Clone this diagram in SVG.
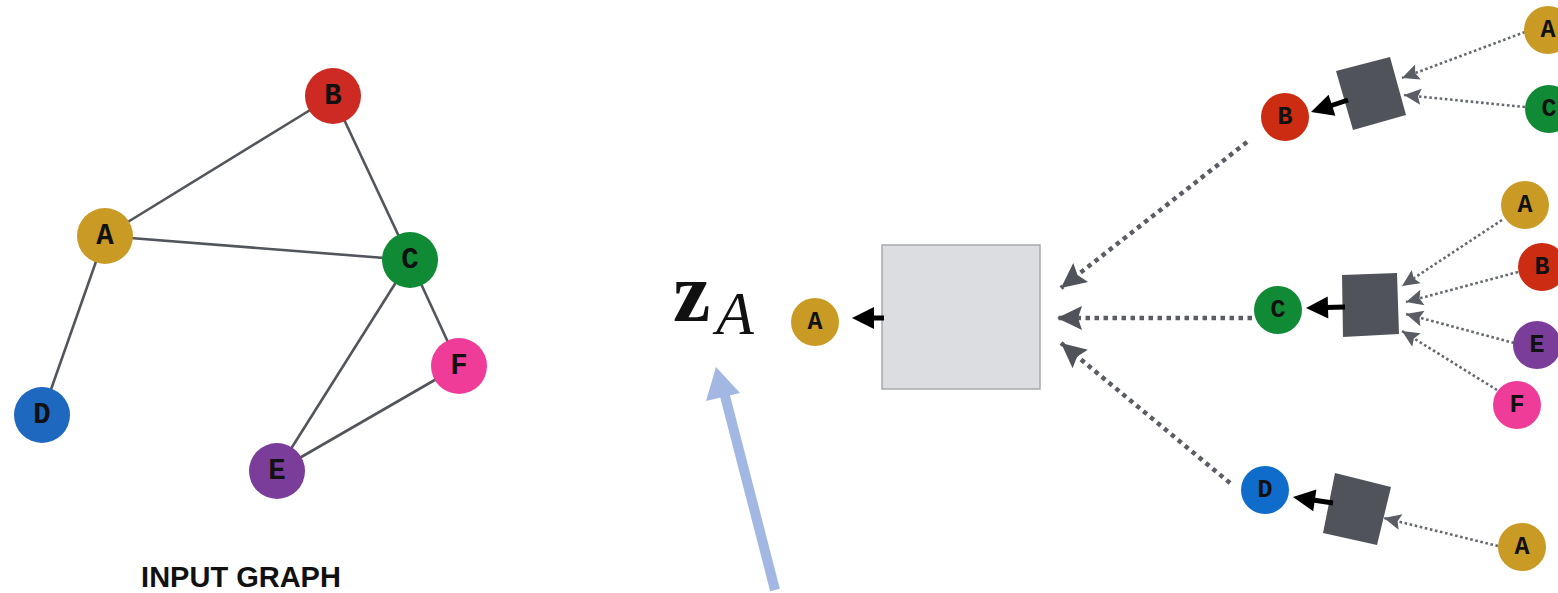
<svg xmlns="http://www.w3.org/2000/svg" width="1558" height="593" viewBox="0 0 1558 593">
  <style>
    .edge { stroke: #52565c; stroke-width: 2.6; fill: none; }
    .node-lbl { font-family: "Liberation Mono", "Courier New", monospace; font-weight: bold; fill: #111; text-anchor: middle; dominant-baseline: central; }
    .big { font-size: 29px; }
    .small { font-size: 25px; }
    .agg { fill: #50545a; }
    .solid { stroke: #000; stroke-width: 5; fill: none; }
    .solid-head { fill: #000; }
    .dotted { stroke: #666a70; stroke-width: 2.6; stroke-dasharray: 2.6 2.6; fill: none; marker-end: url(#headGraySmall); }
    .dotted-big { stroke: #5a5e64; stroke-width: 4.5; stroke-dasharray: 4.5 4.5; fill: none; marker-end: url(#headGrayBig); }
    .cA { fill: #c99a24; } .cB { fill: #cc2a22; } .cC { fill: #118a36; }
    .cD { fill: #1f68bf; } .cE { fill: #7a3d9a; } .cF { fill: #ee3c98; }
    .cB2 { fill: #cc2c12; } .cD2 { fill: #0f6ccb; }
  </style>
  <defs>
    <marker id="headGraySmall" markerUnits="userSpaceOnUse" markerWidth="18" markerHeight="16" refX="17" refY="8" orient="auto" overflow="visible">
      <path d="M0,0 L17,8 L0,16 L3,8 Z" fill="#5a5e64"/>
    </marker>
    <marker id="headGrayBig" markerUnits="userSpaceOnUse" markerWidth="26" markerHeight="24" refX="25" refY="12" orient="auto" overflow="visible">
      <path d="M0,0 L25,12 L0,24 L4,12 Z" fill="#50545a"/>
    </marker>
  </defs>

  <!-- input graph: edges -->
  <g id="graph-edges">
    <line class="edge" x1="105" y1="236" x2="333" y2="96"/>
    <line class="edge" x1="105" y1="236" x2="410" y2="260"/>
    <line class="edge" x1="333" y1="96" x2="410" y2="260"/>
    <line class="edge" x1="105" y1="236" x2="42" y2="415"/>
    <line class="edge" x1="410" y1="260" x2="277" y2="471"/>
    <line class="edge" x1="410" y1="260" x2="459" y2="366"/>
    <line class="edge" x1="277" y1="471" x2="459" y2="366"/>
  </g>

  <!-- input graph: nodes -->
  <g id="g-B"><circle class="cB" cx="333" cy="96" r="28"/><text class="node-lbl big" x="333" y="96">B</text></g>
  <g id="g-A"><circle class="cA" cx="105" cy="236" r="28"/><text class="node-lbl big" x="105" y="236">A</text></g>
  <g id="g-C"><circle class="cC" cx="410" cy="260" r="28"/><text class="node-lbl big" x="410" y="260">C</text></g>
  <g id="g-F"><circle class="cF" cx="459" cy="366" r="28"/><text class="node-lbl big" x="459" y="366">F</text></g>
  <g id="g-D"><circle class="cD" cx="42" cy="415" r="28"/><text class="node-lbl big" x="42" y="415">D</text></g>
  <g id="g-E"><circle class="cE" cx="277" cy="471" r="28"/><text class="node-lbl big" x="277" y="471">E</text></g>

  <text id="input-graph-title" x="241" y="587" text-anchor="middle" font-family="Liberation Sans, Arial, sans-serif" font-weight="bold" font-size="29" fill="#111">INPUT GRAPH</text>

  <!-- embedding label -->
  <g id="embedding-label">
    <text x="673" y="321" font-family="Liberation Serif, Times New Roman, serif" font-weight="bold" font-size="84" fill="#111">z</text>
    <text x="716" y="334" font-family="Liberation Serif, Times New Roman, serif" font-style="italic" font-size="62" fill="#111">A</text>
  </g>

  <!-- aggregation boxes -->
  <g id="agg-root"><rect x="882" y="245" width="158" height="144" fill="#dcdde0" stroke="#a8a9ac" stroke-width="1.5"/></g>
  <g id="agg-B"><polygon class="agg" points="1336,71 1390,57 1406,115 1353,130"/></g>
  <g id="agg-C"><polygon class="agg" points="1342,275 1397,273 1399,334 1343,337"/></g>
  <g id="agg-D"><polygon class="agg" points="1335,473 1391,487 1377,545 1323,533"/></g>

  <!-- connectors -->
  <g id="connectors">
    <!-- aggregated output arrows (solid black) -->
    <line class="solid" x1="884" y1="318" x2="872" y2="318"/>
    <polygon class="solid-head" points="852,318 874,307 874,329"/>
    <line class="solid" x1="1348" y1="100" x2="1330" y2="106"/>
    <polygon class="solid-head" points="1311,112 1328.6,94.7 1335.4,115.7"/>
    <line class="solid" x1="1345" y1="307" x2="1326" y2="307.5"/>
    <polygon class="solid-head" points="1306,308 1327.7,296.4 1328.3,318.4"/>
    <line class="solid" x1="1333" y1="503" x2="1313" y2="500"/>
    <polygon class="solid-head" points="1293,497 1316.4,489.4 1313.2,511.2"/>

    <!-- neighbour messages (dotted) -->
    <line class="dotted-big" x1="1247" y1="142" x2="1061" y2="288"/>
    <line class="dotted-big" x1="1252" y1="318" x2="1057" y2="318"/>
    <line class="dotted-big" x1="1230" y1="483" x2="1061" y2="343"/>

    <line class="dotted" x1="1525" y1="32" x2="1402" y2="78"/>
    <line class="dotted" x1="1525" y1="107" x2="1404" y2="95"/>
    <line class="dotted" x1="1502" y1="220" x2="1402" y2="286"/>
    <line class="dotted" x1="1518" y1="272" x2="1406" y2="302"/>
    <line class="dotted" x1="1514" y1="343" x2="1406" y2="314"/>
    <line class="dotted" x1="1497" y1="390" x2="1402" y2="331"/>
    <line class="dotted" x1="1498" y1="546" x2="1384" y2="518"/>

    <!-- pointer to the embedding -->
    <g id="pointer-arrow" fill="#a2b8e2">
      <line stroke="#a2b8e2" stroke-width="10" x1="775" y1="590" x2="725" y2="396"/>
      <polygon points="716,367 740,393 706,401"/>
    </g>
  </g>

  <!-- computation-graph nodes -->
  <g id="n-A-root"><circle class="cA" cx="815" cy="322" r="24"/><text class="node-lbl small" x="815" y="322">A</text></g>
  <g id="n-B"><circle class="cB2" cx="1285" cy="117" r="24"/><text class="node-lbl small" x="1285" y="117">B</text></g>
  <g id="n-C"><circle class="cC" cx="1278" cy="310" r="24"/><text class="node-lbl small" x="1278" y="310">C</text></g>
  <g id="n-D"><circle class="cD2" cx="1265" cy="490" r="24"/><text class="node-lbl small" x="1265" y="490">D</text></g>
  <g id="n-B-A"><circle class="cA" cx="1548" cy="30" r="24"/><text class="node-lbl small" x="1548" y="30">A</text></g>
  <g id="n-B-C"><circle class="cC" cx="1549" cy="109" r="24"/><text class="node-lbl small" x="1549" y="109">C</text></g>
  <g id="n-C-A"><circle class="cA" cx="1525" cy="205" r="24"/><text class="node-lbl small" x="1525" y="205">A</text></g>
  <g id="n-C-B"><circle class="cB2" cx="1542" cy="267" r="24"/><text class="node-lbl small" x="1542" y="267">B</text></g>
  <g id="n-C-E"><circle class="cE" cx="1537" cy="345" r="24"/><text class="node-lbl small" x="1537" y="345">E</text></g>
  <g id="n-C-F"><circle class="cF" cx="1517" cy="405" r="24"/><text class="node-lbl small" x="1517" y="405">F</text></g>
  <g id="n-D-A"><circle class="cA" cx="1522" cy="547" r="24"/><text class="node-lbl small" x="1522" y="547">A</text></g>
</svg>
